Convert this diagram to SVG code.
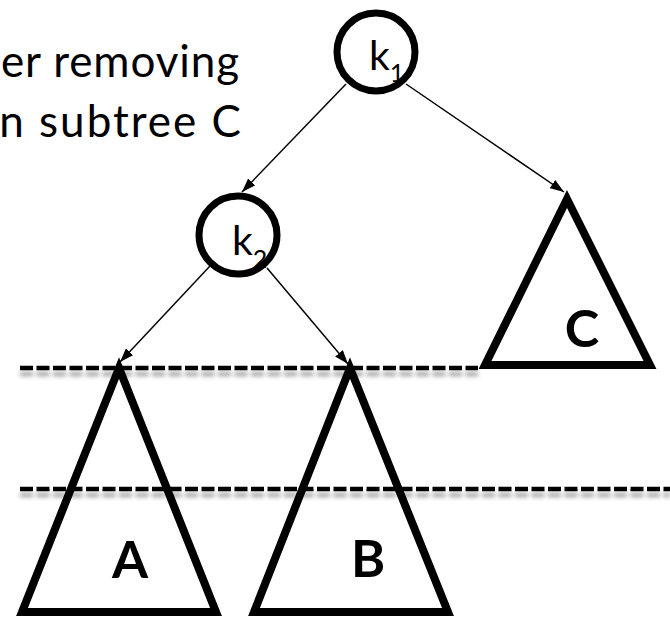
<svg xmlns="http://www.w3.org/2000/svg" width="670" height="618" viewBox="0 0 670 618">
  <defs>
    <marker id="arrow" viewBox="0 0 14 10" refX="14" refY="5" markerWidth="14" markerHeight="10" markerUnits="userSpaceOnUse" orient="auto">
      <path d="M0,0 L14,5 L0,10 Z" fill="#000"/>
    </marker>
    <filter id="shadow" filterUnits="userSpaceOnUse" x="0" y="0" width="670" height="618">
      <feDropShadow dx="0" dy="6" stdDeviation="2" flood-color="#000" flood-opacity="0.35"/>
    </filter>
  </defs>
  <style>
    .caption { font-family: Lato, "Open Sans", "Liberation Sans", sans-serif; font-size: 44px; fill: #000; }
    .key { font-family: Lato, "Open Sans", "Liberation Sans", sans-serif; font-size: 41px; fill: #000; }
    .sub { font-size: 25px; }
    .ring { fill: #fff; stroke: #000; stroke-width: 7; }
    .tri { fill: #fff; stroke: #000; stroke-width: 8; stroke-linejoin: miter; stroke-miterlimit: 10; }
    .tlabel { font-family: Lato, "Open Sans", "Liberation Sans", sans-serif; font-weight: bold; font-size: 52px; fill: #000; text-anchor: middle; }
    .edge { stroke: #000; stroke-width: 1.5; fill: none; marker-end: url(#arrow); }
    .level { stroke: #000; stroke-width: 4.5; stroke-dasharray: 13 3.5; fill: none; }
  </style>

  <rect width="670" height="618" fill="#fff"/>

  <!-- caption, partly outside the frame on the left -->
  <g id="caption">
    <text class="caption" x="240" y="77" text-anchor="end" letter-spacing="0.9">er removing</text>
    <text class="caption" x="243" y="137" text-anchor="end" letter-spacing="2">n subtree C</text>
  </g>

  <!-- subtrees -->
  <g id="subtree-A">
    <polygon class="tri" points="119,368 216,612 22,612"/>
    <text class="tlabel" x="130" y="578">A</text>
  </g>
  <g id="subtree-B">
    <polygon class="tri" points="350,368 448,612 254,612"/>
    <text class="tlabel" x="368" y="577">B</text>
  </g>
  <g id="subtree-C">
    <polygon class="tri" points="567,199 650,365 485,365"/>
    <text class="tlabel" x="582" y="347">C</text>
  </g>

  <!-- height levels -->
  <g id="levels" filter="url(#shadow)">
    <line class="level" x1="20" y1="368" x2="478" y2="368"/>
    <line class="level" x1="20" y1="489" x2="670" y2="489"/>
  </g>

  <!-- tree edges -->
  <g id="connectors">
    <line class="edge" x1="346" y1="84" x2="242" y2="192"/>
    <line class="edge" x1="406" y1="84" x2="564" y2="192"/>
    <line class="edge" x1="210" y1="266" x2="120" y2="362"/>
    <line class="edge" x1="267" y1="268" x2="348" y2="364"/>
  </g>

  <!-- key nodes -->
  <g id="k1">
    <circle class="ring" cx="376" cy="52" r="39"/>
    <text class="key" x="369" y="70">k<tspan class="sub" y="82">1</tspan></text>
  </g>
  <g id="k2">
    <circle class="ring" cx="238" cy="235" r="39"/>
    <text class="key" x="232" y="255">k<tspan class="sub" y="268">2</tspan></text>
  </g>
</svg>
